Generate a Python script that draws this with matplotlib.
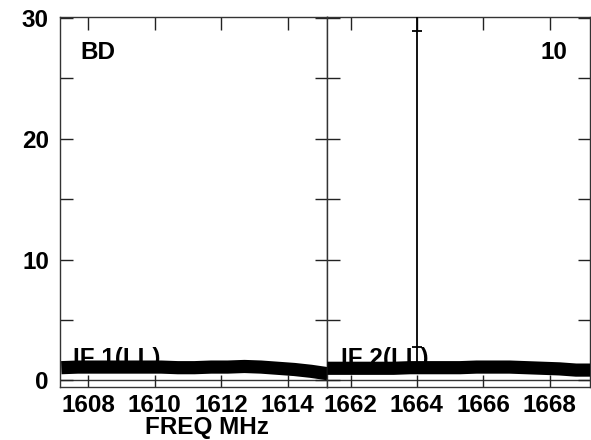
import matplotlib
matplotlib.use("Agg")
import matplotlib.pyplot as plt
import numpy as np

# ---- data ----
if1_freq = [1607.2, 1607.7, 1608.2, 1608.7, 1609.2, 1609.7, 1610.2, 1610.7, 1611.2,
            1611.7, 1612.2, 1612.7, 1613.2, 1613.7, 1614.2, 1614.7, 1615.2]
if1_amp = [1.05, 1.1, 1.1, 1.1, 1.1, 1.1, 1.1, 1.05, 1.05,
           1.1, 1.1, 1.15, 1.1, 1.0, 0.9, 0.75, 0.55]
if2_freq = [1661.3, 1661.8, 1662.3, 1662.8, 1663.3, 1663.8, 1664.3, 1664.8, 1665.3,
            1665.8, 1666.3, 1666.8, 1667.3, 1667.8, 1668.3, 1668.8, 1669.3]
if2_amp = [1.0, 1.0, 1.0, 1.0, 1.0, 1.05, 1.05, 1.05, 1.05,
           1.1, 1.1, 1.1, 1.05, 1.0, 0.95, 0.85, 0.85]
spike_freq = 1664.0
spike_amp = 40.0
spike_err_lo = 2.75
spike_err_hi = 28.95

left_xticks = [1608, 1610, 1612, 1614]
right_xticks = [1662, 1664, 1666, 1668]
yticks = [0, 10, 20, 30]
yminor = [5, 15, 25]

plt.rcParams['font.family'] = ['Liberation Sans', 'DejaVu Sans']
plt.rcParams['font.weight'] = 'bold'

fig = plt.figure(figsize=(5.91, 4.40), dpi=100)
L, B, T = 60/591, 1 - 387/440, 1 - 17.5/440
M = 327/591
R = 590/591
ax1 = fig.add_axes([L, B, M - L, T - B])
ax2 = fig.add_axes([M, B, R - M, T - B])

FS = 17.5
ylim = (-0.55, 30.05)
for ax in (ax1, ax2):
    ax.set_ylim(*ylim)
    ax.axhline(0, color='#333333', lw=1.0, zorder=1)
    for s in ax.spines.values():
        s.set_color('#333333')
        s.set_linewidth(1.0)
    ax.set_yticks(yticks)
    ax.set_yticks(yminor, minor=True)
    ax.tick_params(axis='both', which='both', direction='in', top=True, right=True,
                   length=9, width=1.0, color='#222222', labelsize=FS)
    ax.tick_params(axis='x', which='both', pad=5)

ax1.set_xlim(1607.16, 1615.18)
ax2.set_xlim(1661.29, 1669.22)
ax1.set_xticks(left_xticks)
ax2.set_xticks(right_xticks)
ax1.set_xticklabels([str(v) for v in left_xticks], fontweight='bold')
ax2.set_xticklabels([str(v) for v in right_xticks], fontweight='bold')
ax1.set_yticklabels([str(v) for v in yticks], fontweight='bold')
ax2.set_yticklabels([])
ax1.tick_params(axis='y', pad=8)

ax1.plot(if1_freq, if1_amp, color='black', lw=9.5, solid_capstyle='butt', zorder=3, clip_on=True)
ax2.plot(if2_freq, if2_amp, color='black', lw=9.5, solid_capstyle='butt', zorder=3, clip_on=True)

# spike channel with error bar
ax2.vlines(spike_freq, 1.0, spike_amp, color='black', lw=1.3, zorder=4)
for yv in (spike_err_lo, spike_err_hi):
    ax2.hlines(yv, spike_freq - 0.14, spike_freq + 0.14, color='black', lw=1.3, zorder=4)

ax1.text(0.078, 0.905, 'BD', transform=ax1.transAxes, fontsize=FS, fontweight='bold',
         ha='left', va='center')
ax2.text(0.915, 0.905, '10', transform=ax2.transAxes, fontsize=FS, fontweight='bold',
         ha='right', va='center')
ax1.text(0.05, 1.3, 'IF 1(LL)', transform=ax1.get_yaxis_transform(),
         fontsize=FS, fontweight='bold', ha='left', va='baseline', zorder=2)
ax2.text(0.055, 1.3, 'IF 2(LL)', transform=ax2.get_yaxis_transform(),
         fontsize=FS, fontweight='bold', ha='left', va='baseline', zorder=2)

fig.text(207/591, 1 - 427/440, 'FREQ MHz', fontsize=FS, fontweight='bold',
         ha='center', va='center')

fig.savefig('out.png', dpi=100)
